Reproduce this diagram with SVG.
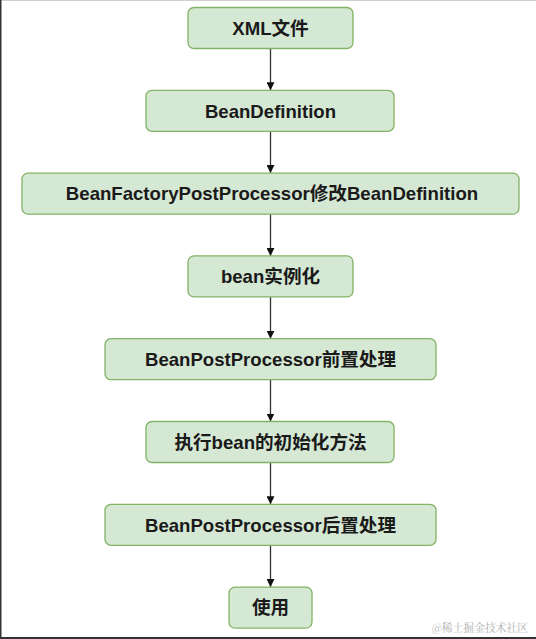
<svg xmlns="http://www.w3.org/2000/svg" width="536" height="639" viewBox="0 0 536 639">
<defs>
<style>
.box{fill:#d5e8d4;stroke:#82b366;stroke-width:1.3}
.lbl{font-family:"Liberation Sans","Noto Sans CJK SC",Arial,sans-serif;font-weight:bold;font-size:18.6px;fill:#1a1a1a;text-anchor:middle}
.edge{stroke:#333333;stroke-width:1.3;fill:none}
.wm{font-family:"Noto Serif CJK SC","Noto Sans CJK SC",serif;font-size:11.5px;fill:#b0b0b0}
</style>
<marker id="arr" viewBox="0 0 10 10" refX="10" refY="5" markerWidth="8" markerHeight="8" markerUnits="userSpaceOnUse" orient="auto">
<path d="M0,0 L10,5 L0,10 Z" fill="#111111"/>
</marker>
</defs>
<rect x="0" y="0" width="536" height="639" fill="#ffffff"/>
<line x1="0" y1="0.5" x2="536" y2="0.5" stroke="#cfcfcf" stroke-width="1"/>
<line x1="0.75" y1="0" x2="0.75" y2="639" stroke="#333333" stroke-width="1.5"/>
<line x1="0" y1="638" x2="536" y2="638" stroke="#333333" stroke-width="2"/>
<g id="connectors">
<line class="edge" x1="270.5" y1="48.5" x2="270.5" y2="90.3" marker-end="url(#arr)"/>
<line class="edge" x1="270.5" y1="131.3" x2="270.5" y2="173.1" marker-end="url(#arr)"/>
<line class="edge" x1="270.5" y1="214.1" x2="270.5" y2="255.9" marker-end="url(#arr)"/>
<line class="edge" x1="270.5" y1="296.9" x2="270.5" y2="338.7" marker-end="url(#arr)"/>
<line class="edge" x1="270.5" y1="379.7" x2="270.5" y2="421.5" marker-end="url(#arr)"/>
<line class="edge" x1="270.5" y1="462.5" x2="270.5" y2="504.3" marker-end="url(#arr)"/>
<line class="edge" x1="270.5" y1="545.3" x2="270.5" y2="587.1" marker-end="url(#arr)"/>
</g>
<g id="n1"><rect class="box" x="188" y="7.5" width="165" height="41" rx="6"/><text class="lbl" x="270.5" y="34.7">XML文件</text></g>
<g id="n2"><rect class="box" x="146" y="90.3" width="248" height="41" rx="6"/><text class="lbl" x="270.5" y="117.5">BeanDefinition</text></g>
<g id="n3"><rect class="box" x="22" y="173.1" width="497" height="41" rx="6"/><text class="lbl" x="272" y="200.3">BeanFactoryPostProcessor修改BeanDefinition</text></g>
<g id="n4"><rect class="box" x="188" y="255.9" width="165" height="41" rx="6"/><text class="lbl" x="270.5" y="283.1">bean实例化</text></g>
<g id="n5"><rect class="box" x="105" y="338.7" width="331" height="41" rx="6"/><text class="lbl" x="270.5" y="365.9">BeanPostProcessor前置处理</text></g>
<g id="n6"><rect class="box" x="146" y="421.5" width="248" height="41" rx="6"/><text class="lbl" x="270.5" y="448.7">执行bean的初始化方法</text></g>
<g id="n7"><rect class="box" x="105" y="504.3" width="331" height="41" rx="6"/><text class="lbl" x="270.5" y="531.5">BeanPostProcessor后置处理</text></g>
<g id="n8"><rect class="box" x="229" y="587.1" width="83" height="41" rx="6"/><text class="lbl" x="270.5" y="614.3">使用</text></g>
<text class="wm" x="432" y="632" textLength="96" lengthAdjust="spacingAndGlyphs">@稀土掘金技术社区</text>
</svg>
